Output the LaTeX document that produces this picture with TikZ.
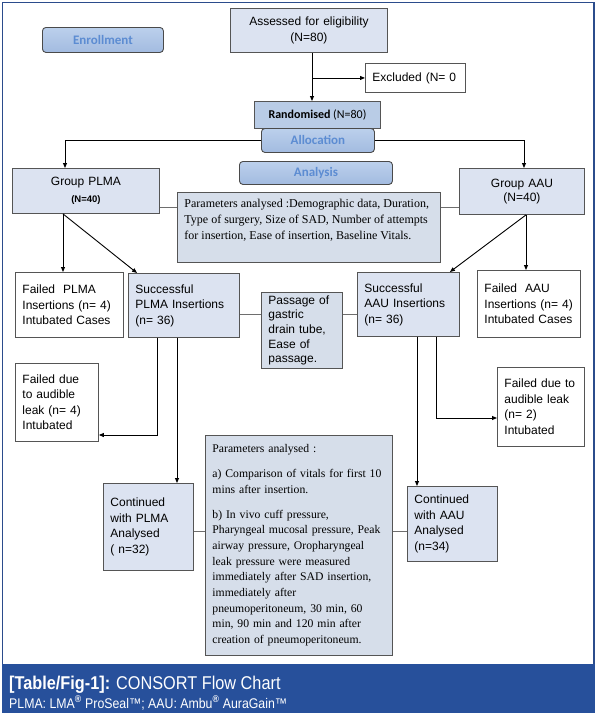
\documentclass[tikz,border=0pt]{standalone}
\usepackage{fontspec}
\setmainfont{Liberation Sans}
\newfontfamily\tnrfont{Liberation Serif}
\newfontfamily\calibrifont{Carlito}
\newfontfamily\capfont[FakeStretch=0.88]{Liberation Sans}
\usetikzlibrary{arrows.meta}
\definecolor{bordergray}{HTML}{555555}
\definecolor{conngray}{HTML}{6E6E6E}
\definecolor{lightfill}{HTML}{DCE3F1}
\definecolor{paramfill}{HTML}{D6DEEA}
\definecolor{randfill}{HTML}{B9CCE6}
\definecolor{rfillTop}{HTML}{BCD0EC}
\definecolor{rfillBot}{HTML}{A2BBE0}
\definecolor{rborder}{HTML}{4A4A4A}
\definecolor{rtext}{HTML}{5C8CD2}
\definecolor{framecol}{HTML}{2B4C8C}
\definecolor{bandcol}{HTML}{27509B}
\newcommand{\tl}[1]{\mbox{#1}}
\tikzset{
  base/.style={draw=bordergray, line width=0.9pt, inner xsep=7pt, inner ysep=0pt,
    anchor=north west, font=\fontsize{12}{15.5}\selectfont, align=left},
  lbox/.style={base, fill=lightfill},
  wbox/.style={base, fill=white},
  pbox/.style={base, fill=paramfill, font=\tnrfont\fontsize{11.7}{15.7}\selectfont},
  rbox/.style={draw=rborder, line width=0.9pt, rounded corners=3.5pt,
    top color=rfillTop, bottom color=rfillBot, anchor=north west,
    font=\calibrifont\bfseries\fontsize{13}{15}\selectfont, text=rtext, inner sep=0pt},
  arr/.style={draw=black, line width=0.9pt, -{Triangle[length=5pt,width=4pt]}},
  conn/.style={draw=conngray, line width=0.9pt},
}
\begin{document}
\begin{tikzpicture}[x=1pt,y=-1pt]
\useasboundingbox (0,0) rectangle (597,716);
% frame and caption band
\draw[framecol, line width=1.2pt] (2.5,2.5) rectangle (594,665);
\fill[bandcol] (2,664) rectangle (595,713);
\node[anchor=base west, inner sep=0pt, text=white, font=\capfont\fontsize{18.5}{20}\selectfont] (cap1) at (9,689)
  {\textbf{[Table/Fig-1]:} CONSORT Flow Chart};
\node[anchor=base west, inner sep=0pt, text=white, font=\capfont\fontsize{14}{16}\selectfont] (cap2) at (9,708)
  {PLMA: LMA\textsuperscript{\textbf{®}} ProSeal™; AAU: Ambu\textsuperscript{\textbf{®}} AuraGain™};

% top part
\node[lbox, minimum width=157pt, minimum height=44pt, text width=143pt, align=center] (assess) at (230,8)
  {Assessed for eligibility\\(N=80)};
\node[rbox, minimum width=121pt, minimum height=25pt] (enroll) at (42,27) {Enrollment};
\node[wbox, minimum width=100pt, minimum height=29pt, text width=86pt] (excl) at (365,63) {Excluded (N= 0};
\node[base, fill=randfill, minimum width=126pt, minimum height=27pt, align=center,
  font=\calibrifont\fontsize{12}{14}\selectfont] (rand) at (254,101) {\textbf{Randomised} (N=80)};
\node[rbox, minimum width=113pt, minimum height=24pt] (alloc) at (261,128) {Allocation};
\node[rbox, minimum width=153pt, minimum height=23pt] (anal) at (239,161) {Analysis};

\node[lbox, minimum width=147pt, minimum height=45pt, text width=133pt, align=center,
  font=\fontsize{12}{17}\selectfont] (gP) at (12,168)
  {Group PLMA\\{\bfseries\fontsize{9.5}{11}\selectfont (N=40)}};
\node[lbox, minimum width=125pt, minimum height=46pt, text width=111pt, align=center,
  font=\fontsize{12}{14}\selectfont] (gA) at (459,168)
  {Group AAU\\(N=40)};
\node[pbox, minimum width=263pt, minimum height=70pt, inner ysep=0pt,
  font=\tnrfont\fontsize{12}{16}\selectfont] (p1) at (177,192)
  {\parbox[c][70pt][t]{249pt}{\vspace{7pt}\tl{Parameters analysed :Demographic data, Duration,}\\
   \tl{Type of surgery, Size of SAD, Number of attempts}\\
   \tl{for insertion, Ease of insertion, Baseline Vitals.}}};

\node[wbox, minimum width=108pt, minimum height=65pt, text width=94pt] (failP) at (15,272)
  {Failed\ \ PLMA\\Insertions (n= 4)\\Intubated Cases};
\node[lbox, minimum width=111pt, minimum height=64pt, text width=97pt] (succP) at (128,273)
  {Successful\\PLMA Insertions\\(n= 36)};
\node[base, fill=paramfill, minimum width=81pt, minimum height=76pt, text width=67pt,
  font=\fontsize{12}{14.6}\selectfont] (pass) at (261,292)
  {Passage of\\gastric\\drain tube,\\Ease of\\passage.};
\node[lbox, minimum width=102pt, minimum height=64pt, text width=88pt] (succA) at (357,272)
  {Successful\\AAU Insertions\\(n= 36)};
\node[wbox, minimum width=103pt, minimum height=67pt, text width=89pt] (failA) at (477,270)
  {Failed\ \ AAU\\Insertions (n= 4)\\Intubated Cases};

\node[wbox, minimum width=83pt, minimum height=78pt, text width=69pt] (failP2) at (15,363)
  {Failed due\\to audible\\leak (n= 4)\\Intubated};
\node[wbox, minimum width=87pt, minimum height=79pt, text width=73pt] (failA2) at (497,367)
  {\tl{Failed due to}\\audible leak\\(n= 2)\\Intubated};

\node[lbox, minimum width=90pt, minimum height=87pt, text width=76pt] (contP) at (103,483)
  {Continued\\with PLMA\\Analysed\\( n=32)};
\node[pbox, minimum width=187pt, minimum height=220pt, text width=173pt] (p2) at (205,435)
  {\tl{Parameters analysed :}\\[9pt]
   \tl{a) Comparison of vitals for first 10}\\
   \tl{mins after insertion.}\\[9pt]
   \tl{b) In vivo cuff pressure,}\\
   \tl{Pharyngeal mucosal pressure, Peak}\\
   \tl{airway pressure, Oropharyngeal}\\
   \tl{leak pressure were measured}\\
   \tl{immediately after SAD insertion,}\\
   \tl{immediately after}\\
   \tl{pneumoperitoneum, 30 min, 60}\\
   \tl{min, 90 min and 120 min after}\\
   \tl{creation of pneumoperitoneum.}};
\node[lbox, minimum width=90pt, minimum height=75pt, text width=76pt] (contA) at (407,486)
  {Continued\\with AAU\\Analysed\\(n=34)};

% helper coordinates
\coordinate (xa) at (312,0);
\coordinate (xl) at (65,0);
\coordinate (xr) at (524,0);
\coordinate (xg) at (63,0);
\coordinate (xh) at (526,0);
\coordinate (y1) at (0,207);
\coordinate (y2) at (0,314);
\coordinate (y3) at (0,531);
\coordinate (xs1) at (157,0);
\coordinate (xs2) at (177,0);
\coordinate (xt1) at (417,0);
\coordinate (xt2) at (436,0);
\coordinate (yl1) at (0,435);
\coordinate (yl2) at (0,418);

% connectors
\draw[arr] (assess.south -| xa) -- (rand.north -| xa);
\draw[arr] (excl.west -| xa) -- (excl.west);
\draw[arr] (alloc.west) -| (gP.north -| xl);
\draw[arr] (alloc.east) -| (gA.north -| xr);
\draw[conn] (gP.east |- y1) -- (p1.west |- y1);
\draw[conn] (p1.east |- y1) -- (gA.west |- y1);
\draw[arr] (gP.south -| xg) -- (failP.north -| xg);
\draw[arr] (gP.south -| xg) -- ([xshift=9pt]succP.north west);
\draw[arr] (gA.south -| xh) -- (failA.north -| xh);
\draw[arr] (gA.south -| xh) -- ([xshift=-10pt]succA.north east);
\draw[conn] (succP.east |- y2) -- (pass.west |- y2);
\draw[conn] (pass.east |- y2) -- (succA.west |- y2);
\draw[arr] (succP.south -| xs1) |- (failP2.east |- yl1);
\draw[arr] (succP.south -| xs2) -- (contP.north -| xs2);
\draw[arr] (succA.south -| xt1) -- (contA.north -| xt1);
\draw[arr] (succA.south -| xt2) |- (failA2.west |- yl2);
\draw[conn] (contP.east |- y3) -- (p2.west |- y3);
\draw[conn] (p2.east |- y3) -- (contA.west |- y3);
\end{tikzpicture}
\end{document}
